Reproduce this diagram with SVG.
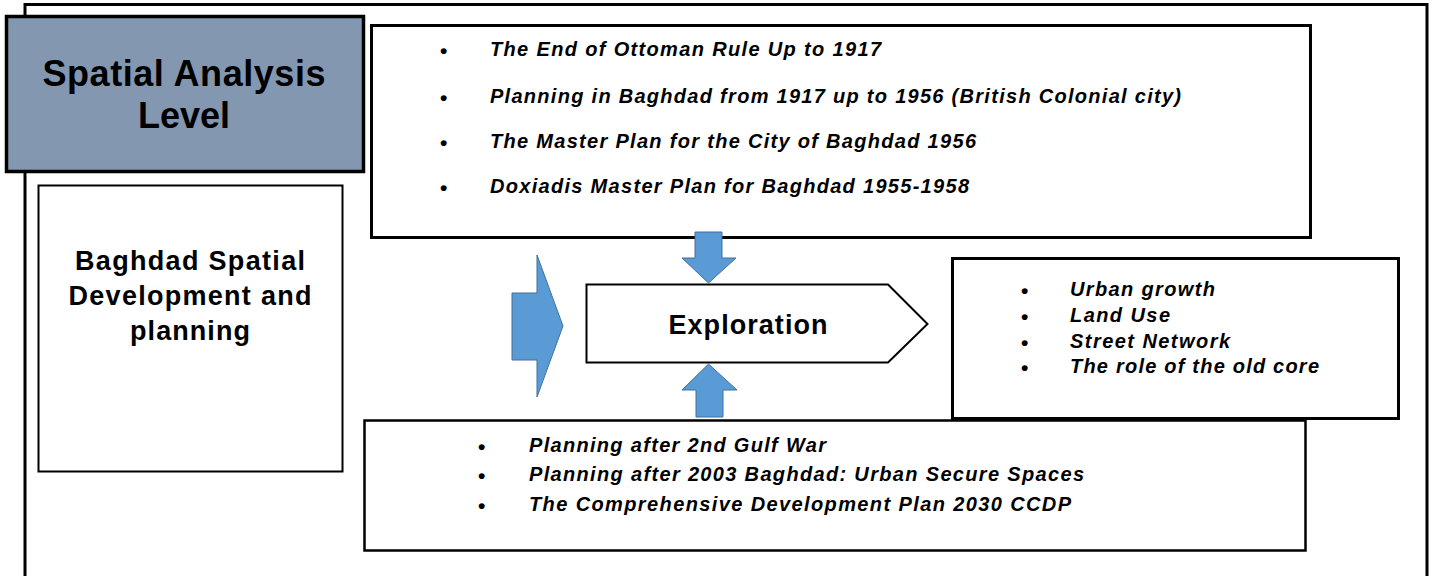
<svg xmlns="http://www.w3.org/2000/svg" width="1434" height="576" viewBox="0 0 1434 576">
<style>
.box{fill:#ffffff;stroke:#000000}
.t{font-family:"Liberation Sans",Arial,sans-serif;font-weight:bold;fill:#000000}
.it{font-family:"Liberation Sans",Arial,sans-serif;font-weight:bold;font-style:italic;font-size:20px;fill:#000000}
.b{font-family:"Liberation Sans",Arial,sans-serif;font-size:21px;font-weight:bold;fill:#000000}
.arr{fill:#5b9bd5;stroke:#41719c;stroke-width:1}
</style>
<rect width="1434" height="576" fill="#ffffff"/>
<g id="frame">
<rect x="25" y="4.5" width="1402" height="600" fill="none" stroke="#000000" stroke-width="3"/>
</g>
<g id="spatial-analysis-level">
<rect x="6.5" y="16.5" width="357" height="155" fill="#8497b0" stroke="#000000" stroke-width="3.5"/>
<text class="t" x="184" y="86" font-size="36" text-anchor="middle" textLength="283" lengthAdjust="spacing">Spatial Analysis</text>
<text class="t" x="184" y="128" font-size="36" text-anchor="middle" textLength="92" lengthAdjust="spacing">Level</text>
</g>
<g id="baghdad-spatial">
<rect class="box" x="38.5" y="185.5" width="304" height="286" stroke-width="2"/>
<text class="t" x="190" y="270" font-size="27" text-anchor="middle" textLength="230" lengthAdjust="spacing">Baghdad Spatial</text>
<text class="t" x="190" y="305" font-size="27" text-anchor="middle" textLength="243" lengthAdjust="spacing">Development and</text>
<text class="t" x="190" y="340" font-size="27" text-anchor="middle" textLength="120" lengthAdjust="spacing">planning</text>
</g>
<g id="history-box">
<rect class="box" x="371.5" y="25.5" width="939" height="212" stroke-width="3"/>
<text class="b" x="440" y="58">•</text>
<text class="b" x="440" y="105">•</text>
<text class="b" x="440" y="150">•</text>
<text class="b" x="440" y="195">•</text>
<text class="it" x="490" y="56" textLength="391" lengthAdjust="spacing">The End of Ottoman Rule Up to 1917</text>
<text class="it" x="490" y="103" textLength="691" lengthAdjust="spacing">Planning in Baghdad from 1917 up to 1956 (British Colonial city)</text>
<text class="it" x="490" y="148" textLength="486" lengthAdjust="spacing">The Master Plan for the City of Baghdad 1956</text>
<text class="it" x="490" y="193" textLength="479" lengthAdjust="spacing">Doxiadis Master Plan for Baghdad 1955-1958</text>
</g>
<g id="recent-box">
<rect class="box" x="364.5" y="420.5" width="941" height="130" stroke-width="2.5"/>
<text class="b" x="478" y="454">•</text>
<text class="b" x="478" y="483">•</text>
<text class="b" x="478" y="513">•</text>
<text class="it" x="529" y="452" textLength="297" lengthAdjust="spacing">Planning after 2nd Gulf War</text>
<text class="it" x="529" y="481" textLength="555" lengthAdjust="spacing">Planning after 2003 Baghdad: Urban Secure Spaces</text>
<text class="it" x="529" y="511" textLength="542" lengthAdjust="spacing">The Comprehensive Development Plan 2030 CCDP</text>
</g>
<g id="themes-box">
<rect class="box" x="952.5" y="258.5" width="446" height="160" stroke-width="3"/>
<text class="b" x="1021" y="298">•</text>
<text class="b" x="1021" y="324">•</text>
<text class="b" x="1021" y="350">•</text>
<text class="b" x="1021" y="375">•</text>
<text class="it" x="1070" y="296" textLength="145" lengthAdjust="spacing">Urban growth</text>
<text class="it" x="1070" y="322" textLength="100" lengthAdjust="spacing">Land Use</text>
<text class="it" x="1070" y="348" textLength="160" lengthAdjust="spacing">Street Network</text>
<text class="it" x="1070" y="373" textLength="249" lengthAdjust="spacing">The role of the old core</text>
</g>
<g id="exploration">
<polygon points="586.5,284.5 888,284.5 927.5,324 888,362.5 586.5,362.5" fill="#ffffff" stroke="#000000" stroke-width="2"/>
<text class="t" x="748" y="334" font-size="27" text-anchor="middle" textLength="159" lengthAdjust="spacing">Exploration</text>
</g>
<g id="connectors">
<polygon class="arr" points="695,232 722,232 722,258 736,258 708.5,283 682,258 695,258"/>
<polygon class="arr" points="708.5,364 737,390 723,390 723,417 696,417 696,390 682,390"/>
<polygon class="arr" points="512,293 537,293 537,255 563,326 537,397 537,360 512,360"/>
</g>
</svg>
